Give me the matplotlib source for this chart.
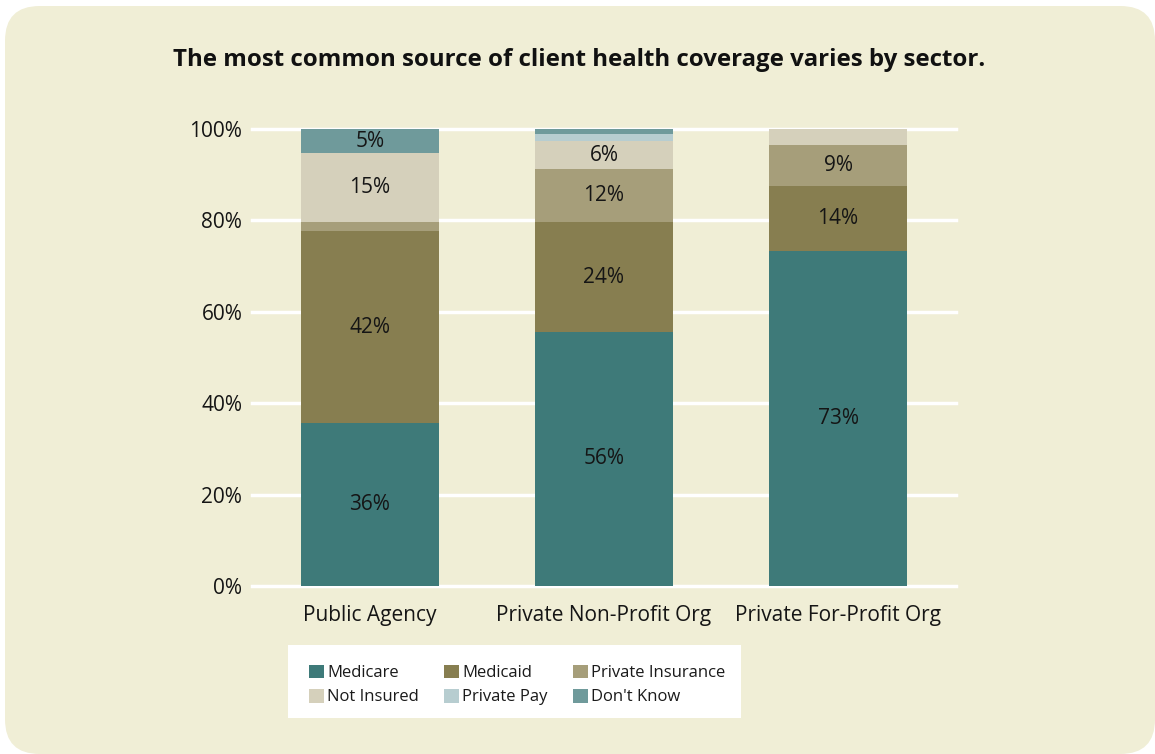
import numpy as np
import matplotlib
matplotlib.use("Agg")
from matplotlib import pyplot as plt
from matplotlib.patches import FancyBboxPatch, Rectangle

plt.rcParams['font.family'] = ['Open Sans', 'DejaVu Sans']

sectors = ["Public Agency", "Private Non-Profit Org", "Private For-Profit Org"]
series = ["Medicare", "Medicaid", "Private Insurance", "Not Insured", "Private Pay", "Don't Know"]
medicare = [35.6, 55.6, 73.2]
medicaid = [42.1, 24.0, 14.4]
private_ins = [1.9, 11.6, 8.9]
not_insured = [15.1, 6.2, 3.5]
private_pay = [0.0, 1.6, 0.0]
dont_know = [5.3, 1.0, 0.0]
yticks = [0, 20, 40, 60, 80, 100]

colors = ["#3e7a79", "#877e50", "#a69e7a", "#d5d0bb", "#b7cdd0", "#6f9a9b"]
bg = "#f0eed6"

fig = plt.figure(figsize=(11.55, 7.54), dpi=100)
fig.patch.set_facecolor("white")
panel = FancyBboxPatch((5 / 1155, 0), 1 - 5 / 1155, 1 - 6 / 754,
                       boxstyle="round,pad=0,rounding_size=0.03",
                       transform=fig.transFigure, facecolor=bg, edgecolor="none",
                       mutation_aspect=1155 / 754, zorder=-10)
fig.patches.append(panel)

ax = fig.add_axes([252 / 1155, 1 - 586 / 754, 704 / 1155, 457 / 754])
ax.set_facecolor("none")
for s in ax.spines.values():
    s.set_visible(False)

for y in yticks:
    ax.axhline(y, color="white", lw=2.5, zorder=0, clip_on=False)

x = np.arange(len(sectors))
data = [medicare, medicaid, private_ins, not_insured, private_pay, dont_know]
bottom = np.zeros(len(sectors))
for vals, c, name in zip(data, colors, series):
    vals = np.array(vals)
    ax.bar(x, vals, 0.59, bottom=bottom, color=c, label=name, zorder=2)
    for xi, v, b in zip(x, vals, bottom):
        if v >= 4.5:
            ax.text(xi, b + v / 2, "%d%%" % round(v), ha="center", va="center",
                    fontsize=15, color="#151515", zorder=3)
    bottom += vals

ax.set_xlim(-0.504, 2.504)
ax.set_ylim(0, 100)
ax.set_yticks(yticks)
ax.set_yticklabels(["%d%%" % v for v in yticks], fontsize=15, color="#151515")
ax.set_xticks(x)
ax.set_xticklabels(sectors, fontsize=15, color="#151515")
ax.tick_params(axis="both", length=0)
ax.tick_params(axis="y", pad=7)
ax.tick_params(axis="x", pad=14)

fig.text(579 / 1155, 1 - 60 / 754, "The most common source of client health coverage varies by sector.",
         ha="center", va="center", fontsize=17.3, fontweight="bold", color="#111111")

# legend box
fig.patches.append(Rectangle((288 / 1155, 1 - 718 / 754), 453 / 1155, 73 / 754,
                             transform=fig.transFigure, facecolor="white", edgecolor="none",
                             zorder=-5))
handles, labels = ax.get_legend_handles_labels()
order = [0, 3, 1, 4, 2, 5]
leg = fig.legend([handles[i] for i in order], [labels[i] for i in order], ncol=3,
                 loc="center", bbox_to_anchor=(517 / 1155, 1 - 685 / 754),
                 frameon=False, fontsize=12, handlelength=0.9, handleheight=0.9,
                 handletextpad=0.2, columnspacing=1.5, labelspacing=0.45,
                 labelcolor="#1a1a1a")

fig.savefig("out.png", dpi=100, facecolor="white")
